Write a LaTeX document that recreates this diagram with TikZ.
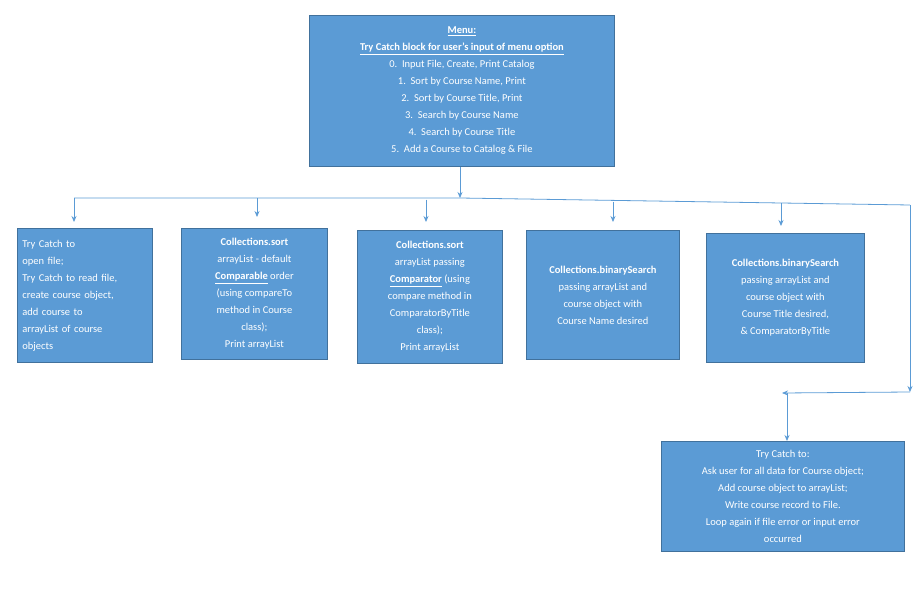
\documentclass[tikz,border=0pt]{standalone}
\usepackage{fontspec}
\setmainfont{Carlito}
\usetikzlibrary{arrows.meta}
\definecolor{boxfill}{HTML}{5B9BD5}
\definecolor{boxdraw}{HTML}{41719C}
\definecolor{linec}{HTML}{5B9BD5}
\begin{document}
\begin{tikzpicture}[x=1pt,y=-1pt,
  box/.style={draw=boxdraw,fill=boxfill,line width=0.8pt,text=white,inner sep=0pt,
    font=\fontsize{10.5}{17}\selectfont},
  conn/.style={draw=linec,line width=0.8pt},
  arr/.style={conn,-{Stealth[length=6pt,width=5pt]}}]
\useasboundingbox (0,0) rectangle (922,610);
\node[box,minimum width=305pt,minimum height=151pt,align=center,anchor=north west] (menu) at (309,15)
 {\textbf{\underline{Menu:}}\\\textbf{\underline{Try Catch block for user’s input of menu option}}\\
  0.\ \ Input File, Create, Print Catalog\\1.\ \ Sort by Course Name, Print\\2.\ \ Sort by Course Title, Print\\
  3.\ \ Search by Course Name\\4.\ \ Search by Course Title\\5.\ \ Add a Course to Catalog \& File};
\node[box,minimum width=135pt,minimum height=134pt,anchor=north west,align=left,text width=125pt] (b1) at (17,228)
 {Try Catch to\\open file;\\Try Catch to read file,\\create course object,\\add course to\\arrayList of course\\objects};
\node[box,minimum width=146pt,minimum height=131pt,anchor=north west,align=center] (b2) at (181,228)
 {\textbf{Collections.sort}\\arrayList - default\\\underline{\textbf{Comparable}} order\\(using compareTo\\method in Course\\class);\\Print arrayList};
\node[box,minimum width=145pt,minimum height=133pt,anchor=north west,align=center] (b3) at (357,230)
 {\textbf{Collections.sort}\\arrayList passing\\\underline{\textbf{Comparator}} (using\\compare method in\\ComparatorByTitle\\class);\\Print arrayList};
\node[box,minimum width=153pt,minimum height=129pt,anchor=north west,align=center] (b4) at (526,230)
 {\textbf{Collections.binarySearch}\\passing arrayList and\\course object with\\Course Name desired};
\node[box,minimum width=158pt,minimum height=129pt,anchor=north west,align=center] (b5) at (706,233)
 {\textbf{Collections.binarySearch}\\passing arrayList and\\course object with\\Course Title desired,\\\& ComparatorByTitle};
\node[box,minimum width=243pt,minimum height=110pt,anchor=north west,align=center] (b6) at (661,441)
 {Try Catch to:\\Ask user for all data for Course object;\\Add course object to arrayList;\\Write course record to File.\\Loop again if file error or input error\\occurred};
\coordinate (j) at (460,198);
\coordinate (l) at (74,198);
\coordinate (r) at (910,205);
\coordinate (rb) at (910,392);
\coordinate (m) at (787,393);
\draw[arr] (menu.south -| j) -- (j);
\draw[conn] (l) -- (j) -- (r);
\draw[arr] (l) -- (74,222);
\draw[arr] (257,198.3) -- (257,217);
\draw[arr] (426,199.5) -- (426,222);
\draw[arr] (613,201.5) -- (613,222);
\draw[arr] (781,203) -- (781,226);
\draw[arr] (r) -- (rb);
\draw[arr] (rb) -- (782,393);
\draw[arr] (m) -- (m |- b6.north);
\end{tikzpicture}
\end{document}
